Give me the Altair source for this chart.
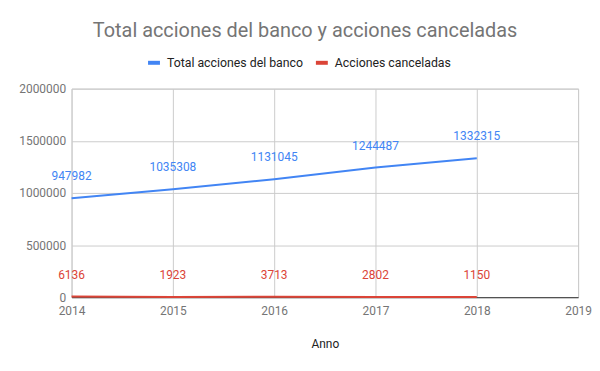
import altair as alt
import pandas as pd

years = [2014, 2015, 2016, 2017, 2018]
total_acciones = [947982, 1035308, 1131045, 1244487, 1332315]
acciones_canceladas = [6136, 1923, 3713, 2802, 1150]
series_names = ["Total acciones del banco", "Acciones canceladas"]
series_colors = ["#4285F4", "#DB4437"]

rows = []
for y, v in zip(years, total_acciones):
    rows.append({"Anno": y, "valor": v, "serie": series_names[0]})
for y, v in zip(years, acciones_canceladas):
    rows.append({"Anno": y, "valor": v, "serie": series_names[1]})
df = pd.DataFrame(rows)

FONT = "Roboto"

color = alt.Color(
    "serie:N",
    scale=alt.Scale(domain=series_names, range=series_colors),
    sort=series_names,
    legend=alt.Legend(
        title=None,
        orient="none",
        legendX=75,
        legendY=-34,
        direction="horizontal",
        symbolType="stroke",
        symbolStrokeWidth=4,
        symbolSize=144,
        labelFont=FONT,
        labelFontSize=12.4,
        labelColor="#222222",
        columnPadding=4,
        labelOffset=5,
    ),
)

x = alt.X(
    "Anno:Q",
    scale=alt.Scale(domain=[2014, 2019], nice=False, zero=False),
    axis=alt.Axis(
        values=[2014, 2015, 2016, 2017, 2018, 2019],
        format="d",
        title="Anno",
        tickSize=0,
        labelPadding=8,
        titlePadding=23,
        labelFont=FONT,
        labelFontSize=12,
        labelColor="#757575",
        titleFont=FONT,
        titleFontSize=12,
        titleFontWeight="normal",
        titleColor="#222222",
        domainColor="#333333",
        gridColor="#cccccc",
        labelFlush=False,
    ),
)

y = alt.Y(
    "valor:Q",
    scale=alt.Scale(domain=[0, 2000000], nice=False),
    axis=alt.Axis(
        values=[0, 500000, 1000000, 1500000, 2000000],
        format="d",
        title=None,
        tickSize=0,
        labelPadding=6,
        labelFont=FONT,
        labelFontSize=12,
        labelColor="#757575",
        domain=False,
        gridColor="#cccccc",
    ),
)

base = alt.Chart(df)

lines = base.mark_line(strokeWidth=2).encode(x=x, y=y, color=color)

labels = base.mark_text(dy=-22, font=FONT, fontSize=12, baseline="middle").encode(
    x=x, y=y, color=color, text=alt.Text("valor:Q", format="d")
)

chart = (
    alt.layer(lines, labels)
    .properties(
        width=510,
        height=210,
        padding={"left": 10, "top": 12, "right": 0, "bottom": 0},
        title=alt.TitleParams(
            "Total acciones del banco y acciones canceladas",
            font=FONT,
            fontSize=20,
            fontWeight="normal",
            color="#757575",
            anchor="middle",
            frame="bounds",
            offset=14,
        ),
    )
    .configure_view(stroke="#cccccc")
)

chart.save("out.html", embed_options={"renderer": "svg", "actions": False})
